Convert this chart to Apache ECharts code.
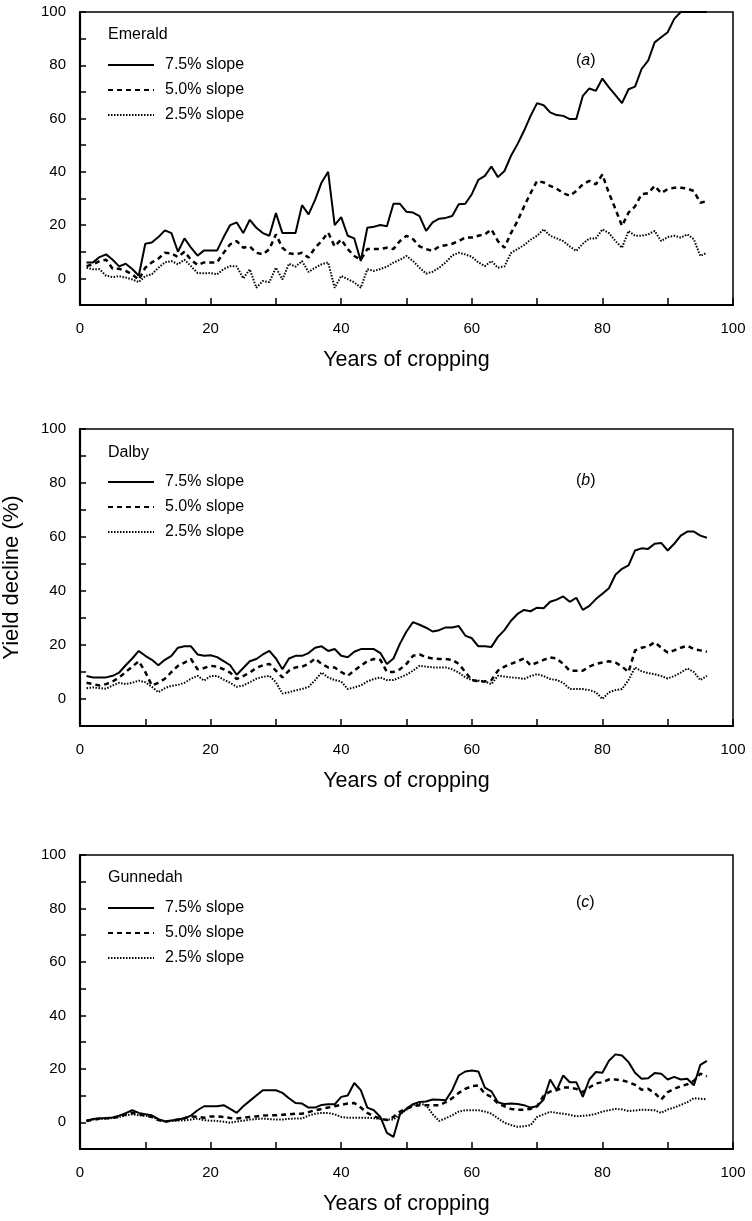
<!DOCTYPE html>
<html lang="en">
<head>
<meta charset="UTF-8">
<title>Yield decline</title>
<style>html,body{margin:0;padding:0;background:#fff;}</style>
</head>
<body>
<div id="chart" style="width:752px;height:1221px;"></div>
<script src="https://cdn.jsdelivr.net/npm/echarts@6/dist/echarts.min.js"></script>
<script>
// years of cropping (x values)
var years = [1,2,3,4,5,6,7,8,9,10,11,12,13,14,15,16,17,18,19,20,
  21,22,23,24,25,26,27,28,29,30,31,32,33,34,35,36,37,38,39,40,
  41,42,43,44,45,46,47,48,49,50,51,52,53,54,55,56,57,58,59,60,
  61,62,63,64,65,66,67,68,69,70,71,72,73,74,75,76,77,78,79,80,
  81,82,83,84,85,86,87,88,89,90,91,92,93,94,95,96];

var seriesNames = ['7.5% slope', '5.0% slope', '2.5% slope'];
var sites = ['Emerald', 'Dalby', 'Gunnedah'];
var panelLetters = ['a', 'b', 'c'];
var xTickLabels = [0, 20, 40, 60, 80, 100];
var yTickLabels = [0, 20, 40, 60, 80, 100];

// (a) Emerald
var emerald75 = [6,6,8,9,7,4.5,5.5,3.5,1,13,13.5,15.5,18,17,10,15,11.5,8.5,10.5,10.5,
  10.5,15.5,20,21,17,22,19,17,16,24.5,17,17,17,27.5,24,29.5,36,40,20,23,
  16,15,6.5,19,19.4,20,19.6,28,28,25,24.7,23.4,17.8,21,22.4,22.7,23.4,27.8,28,31.6,
  37,38.5,42,38,40.3,46,50.4,55.4,61,65.8,65,62.3,61.3,61,59.8,59.8,68.5,71.3,70.4,75,
  71.7,68.8,65.8,71,72,78.6,81.7,88.6,90.5,92.4,97.4,100,100,100,100,100];
var emerald50 = [4.6,5.3,6.5,7,3.6,3.6,2.8,1.5,-0.5,4,6,7.4,9.6,9.4,8,10,7,5,6,6,
  6,9.6,12.8,14,11.5,12,9.6,9,11,16.5,11.5,9.4,9,9.6,7.8,11.5,14,17.2,12,14.6,
  11,8.4,7,11,11,11,11.5,11,14,16,14.7,12,11,10.3,12,12.4,13,14,15.3,15.3,
  16,16.5,18.4,14,11.5,17,21.5,27,32,36.6,36,34.7,33.7,32,31,32.8,35.3,36.6,35.3,39,
  32,26,19.7,24.7,27,31.6,32,34.7,32,33.5,34,34,33.7,32.8,28.4,29];
var emerald25 = [4,3.4,3.4,1,0.5,0.8,0.3,-0.4,-1.4,0.9,1.5,4,6,6.5,5.3,7,4.6,2,1.9,2,
  1.5,3.5,4.6,4.5,0,3.4,-3.5,-1,-1.4,4,-0.4,5.5,4.4,6.5,2.4,4,5.3,6,-3.5,0.9,
  -0.3,-1.5,-3.5,3.4,2.8,3.5,4.4,5.9,7,8.4,6.5,4,1.8,2.5,4,6,8.6,9.6,9,8.1,
  6,4.6,6.5,4,4.5,9.5,11,12.5,14.5,16,18.4,16,15,14,12,10.3,13,15,15,18.4,
  17,14,11.5,17.8,16,16,16.5,17.8,14,15.5,16,15.3,16.5,14.7,8.4,9.6];

// (b) Dalby
var dalby75 = [8.5,8,8,8,8.6,9.8,12.5,15,17.8,16,14.5,12.5,14.5,16,19,19.5,19.5,16.5,16,16.2,
  15.5,14,12.5,9,11.5,14,14.8,16.5,17.8,15,11,15,16,16,17,19,19.5,17.8,18.5,16,
  15.5,17.5,18.5,18.5,18.5,17,13,15,20.5,25,28.5,27.5,26.4,25,25.5,26.5,26.5,27,23.5,22.5,
  19.5,19.5,19.3,23,25.5,29,31.5,33,32.5,33.8,33.6,36,36.8,38,36,37.5,33,34.5,37,39,
  41,46,48.2,49.5,55,55.8,55.6,57.5,57.8,55,57.5,60.5,62,62,60.5,59.7];
var dalby50 = [6,5.5,5,5.5,6.5,8,10,12,14,10,5,6,7.5,10,12.3,13.5,14.8,11,11.5,12.3,
  12,11,9.8,7.4,8.5,9.8,11.5,12.5,13,10.5,8,10.5,11.7,12,13,15,13,11.7,11.7,10,
  8.6,10.5,12.3,14,14.8,14.5,10,10,11,13,16,16.5,15.5,15,14.8,14.8,14.5,13,10,7,
  6.5,6.5,7,10.5,12,13,14,15,12.5,13.5,14.5,15.4,15,13,10.5,10.5,10.5,12,13,13.5,
  14,13.5,12,10,18,19,19.5,21,19,17.2,18,19,19.7,18.5,18,17.5];
var dalby25 = [4,4.3,4,3.8,5,6,5.5,6,6.8,6.2,4.5,2.5,4,4.9,5.2,6,7.5,8.6,6.8,8.5,
  8.5,7.2,6,4.5,5,6.2,7.5,8.2,8.6,6.2,2,2.5,3.2,3.7,4.5,7,9.8,8,7,6.5,
  3.7,4.3,5,6.5,7.4,8,7,7,8,9,10.5,12.3,12,11.7,11.7,11.7,11,9.8,8,7,
  6.8,6.5,5.5,8.6,8.3,8,7.8,7.4,8.5,9.2,8.5,7.4,7,6,3.7,3.7,3.7,3.3,2.5,0,
  2.5,3.3,3.7,7,11.7,10.3,9.6,9.2,8.5,7.6,8.5,9.8,11.3,10,7,8.6];

// (c) Gunnedah
var gunnedah75 = [0.5,1.2,1.5,1.6,1.8,2.5,3.4,4.5,3.5,3,2.6,1.2,0.3,0.7,1,1.5,2.5,4.5,6,6,
  6,6.4,5,3.5,6,8,10,12,12,12,11,9,7.2,7,5.5,5.5,6.5,6.7,6.7,9.5,
  10,14.7,12,5.5,4.5,2,-4,-5.5,3,5.1,6.8,7.6,7.8,8.5,8.4,8.2,12,17.5,19,19.4,
  19,13,11.6,7.5,6.8,7,6.8,6.4,5.5,6,8.5,16,12,17.5,15,15,9.5,16,18.8,18.5,
  23,25.4,25,22.5,18.5,16.3,16.5,18.4,18.2,16,17,16,16.3,13.8,21.5,23];
var gunnedah50 = [0.5,1,1.3,1.5,1.6,2,3,3.5,3,2.5,2,0.8,0.2,0.6,1,1.5,2.2,2,1.7,2.2,
  2.2,2,1.6,1.4,1.7,2,2.2,2.5,2.6,2.6,2.8,3,3.2,3.2,3.8,4.5,5,5.5,6,6.5,
  7,7.2,5.5,3.5,2.2,1.4,0.8,2,4,5.1,6,6.4,6.4,6.4,6.4,7.5,9,11,12.5,13.5,
  13.8,10.7,9.5,7,6,5,4.7,4.7,5,6,10,11.5,12,13,13,12.5,11.3,13,14.5,15,
  16,16,15.7,15,14,12.2,12.5,11,8.5,11.3,12.5,13.5,14.2,15.5,18.2,17.2];
var gunnedah25 = [0.7,1,1.2,1.4,1.6,2,2.6,3,2.6,2.4,2.2,1,0.5,0.5,0.6,0.7,1,1.4,0.8,0.6,
  0.5,0.2,-0.2,0.3,0.6,1,1.2,1.4,1.2,1,1,1.3,1.4,1.4,2.5,3.2,3.5,3.5,3,2,
  1.7,1.7,1.7,1.7,1.5,1.2,1,1,3,4.7,6.5,7,6.4,3,0.5,1.5,2.6,4,4.5,4.5,
  4.5,4,3.2,1.5,-0.2,-1,-1.7,-1.5,-1.1,2,3,3.9,3.5,3.2,2.8,2.2,2.4,2.6,3.2,4,
  4.5,5,4.8,4.2,4.4,4.7,4.6,4.5,3.5,4.8,5.5,6.5,7.5,9,8.8,8.6];

var panelValues = [
  [emerald75, emerald50, emerald25],
  [dalby75, dalby50, dalby25],
  [gunnedah75, gunnedah50, gunnedah25]
];

var font = "'Liberation Sans', Arial, Helvetica, sans-serif";
var lineStyles = [
  { color: '#000', width: 2, type: 'solid' },
  { color: '#000', width: 2.5, type: [5, 4] },
  { color: '#000', width: 2, type: [1.5, 1.5] }
];
var grids = [
  { left: 80, top: 12, width: 653, height: 293 },
  { left: 80, top: 429, width: 653, height: 297 },
  { left: 80, top: 855, width: 653, height: 294 }
];
var legendTops = [57, 474, 900];
var siteTops = [27, 445, 870];
var letterTops = [53, 473, 895];

function pairs(vals) {
  return years.map(function (y, i) { return [y, vals[i]]; });
}

var xAxes = [], yAxes = [], series = [], legends = [], titles = [];
grids.forEach(function (g, p) {
  g.show = true;
  g.borderColor = '#000';
  g.borderWidth = 1.5;
  g.outerBoundsMode = 'none';
  g.containLabel = false;
  xAxes.push({
    gridIndex: p, type: 'value', min: 0, max: 100, interval: 10,
    name: 'Years of cropping', nameLocation: 'middle', nameGap: 44,
    nameTextStyle: { fontFamily: font, fontSize: 21.5, color: '#000' },
    axisLine: { onZero: false, lineStyle: { color: '#000', width: 2.2 } },
    axisTick: { inside: true, length: 7, lineStyle: { color: '#000', width: 1.5 } },
    axisLabel: {
      margin: 16, fontFamily: font, fontSize: 15, color: '#000',
      formatter: function (v) { return xTickLabels.indexOf(v) >= 0 ? String(v) : ''; }
    },
    splitLine: { show: false }
  });
  yAxes.push({
    gridIndex: p, type: 'value', min: -10, max: 100, interval: 10,
    name: p === 1 ? 'Yield decline (%)' : '', nameLocation: 'middle', nameGap: 57,
    nameTextStyle: { fontFamily: font, fontSize: 22, color: '#000' },
    axisLine: { onZero: false, lineStyle: { color: '#000', width: 2.2 } },
    axisTick: { inside: true, length: 6, lineStyle: { color: '#000', width: 1.5 } },
    axisLabel: {
      margin: 14, fontFamily: font, fontSize: 15, color: '#000',
      formatter: function (v) { return yTickLabels.indexOf(v) >= 0 ? String(v) : ''; }
    },
    splitLine: { show: false }
  });
  panelValues[p].forEach(function (vals, k) {
    series.push({
      name: seriesNames[k], type: 'line', xAxisIndex: p, yAxisIndex: p,
      data: pairs(vals), symbol: 'none', silent: true,
      lineStyle: lineStyles[k], itemStyle: { color: '#000' }, z: 3 - k
    });
  });
  legends.push({
    left: 107, top: legendTops[p], orient: 'vertical', padding: 0,
    itemWidth: 46, itemHeight: 14, itemGap: 9, data: seriesNames,
    selectedMode: false,
    itemStyle: { opacity: 0, borderWidth: 0, color: 'rgba(0,0,0,0)' },
    textStyle: { fontFamily: font, fontSize: 16, color: '#000', padding: [0, 0, 0, 6] }
  });
  titles.push({
    text: sites[p], left: 108, top: siteTops[p], padding: 0,
    textStyle: { fontFamily: font, fontSize: 16, fontWeight: 'normal', color: '#000' }
  });
  titles.push({
    text: '({i|' + panelLetters[p] + '})', left: 576, top: letterTops[p], padding: 0,
    textStyle: {
      fontFamily: font, fontSize: 16, fontWeight: 'normal', color: '#000',
      rich: { i: { fontFamily: font, fontSize: 16, fontStyle: 'italic', color: '#000' } }
    }
  });
});

var chart = echarts.init(document.getElementById('chart'), null, { renderer: 'canvas' });
chart.setOption({
  animation: false,
  backgroundColor: '#fff',
  title: titles,
  legend: legends,
  grid: grids,
  xAxis: xAxes,
  yAxis: yAxes,
  series: series
});
</script>
</body>
</html>
